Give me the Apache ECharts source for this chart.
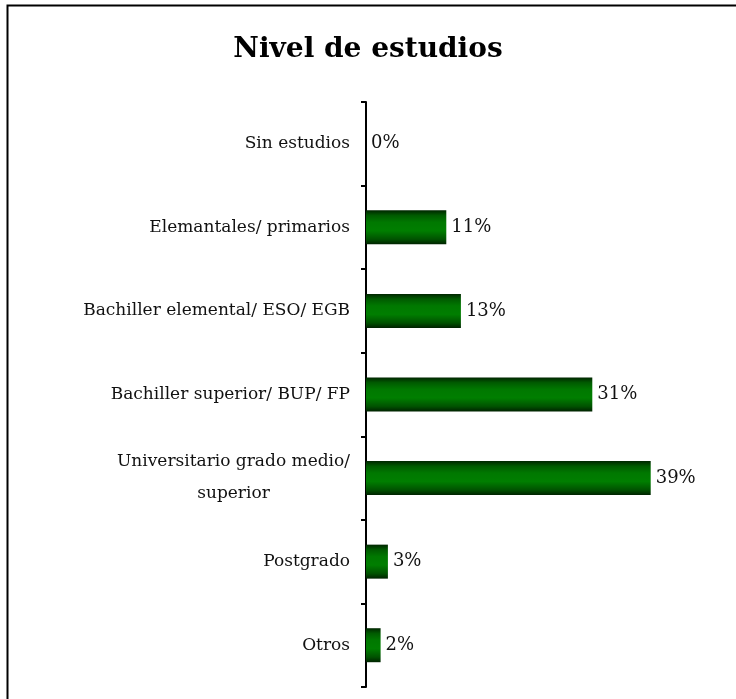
<!DOCTYPE html>
<html><head><meta charset="utf-8">
<script src="https://cdn.jsdelivr.net/npm/echarts@6/dist/echarts.min.js"></script>
<style>html,body{margin:0;padding:0;background:#fff}#c{width:736px;height:699px}</style>
</head><body><div id="c"></div>
<script>
const categories = ["Sin estudios","Elemantales/ primarios","Bachiller elemental/ ESO/ EGB","Bachiller superior/ BUP/ FP","Universitario grado medio/\nsuperior","Postgrado","Otros"];
const values = [0, 11, 13, 31, 39, 3, 2];
const titleText = "Nivel de estudios";

const font = '"DejaVu Serif", serif';
const labelSize = 17;
function textWidth(s) {
  const ctx = document.createElement('canvas').getContext('2d');
  ctx.font = labelSize + 'px ' + font;
  return Math.ceil(ctx.measureText(s).width);
}
const chart = echarts.init(document.getElementById('c'));
chart.setOption({
  animation: false,
  backgroundColor: '#fff',
  title: {text: titleText, left: 'center', top: 31, textStyle: {fontFamily: font, fontWeight: 'bold', fontSize: 28, color: '#000'}},
  graphic: [{type: 'polyline', shape: {points: [[7.5, 699], [7.5, 5.5], [736, 5.5]]}, style: {stroke: '#000', lineWidth: 2, fill: null}}],
  grid: {left: 366, top: 102, width: 365, height: 585, containLabel: false},
  xAxis: {type: 'value', min: 0, max: 50, show: false},
  yAxis: {
    type: 'category', inverse: true, data: categories,
    axisLine: {show: true, lineStyle: {color: '#000', width: 2}},
    axisTick: {show: true, length: 5, inside: false, lineStyle: {color: '#000', width: 2}},
    axisLabel: {
      fontFamily: font, fontSize: labelSize, color: '#111', margin: 16, lineHeight: 32,
      formatter: function (v) {
        if (v.indexOf('\n') >= 0) {
          const parts = v.split('\n');
          const w = Math.max.apply(null, parts.map(textWidth));
          return parts.map(s => '{c|' + s + '}').join('\n').replace(/\{c\|/g, '{c|');
        }
        return v;
      },
      rich: {c: {width: textWidth("Universitario grado medio/"), align: 'center', fontFamily: font, fontSize: labelSize, color: '#111', lineHeight: 32}}
    }
  },
  series: [{
    type: 'bar', data: values, barWidth: 34,
    itemStyle: {color: new echarts.graphic.LinearGradient(0, 0, 0, 1, [
      {offset: 0, color: '#002600'}, {offset: 0.15, color: '#005a00'}, {offset: 0.35, color: '#007800'},
      {offset: 0.6, color: '#007e00'}, {offset: 0.85, color: '#005200'}, {offset: 1, color: '#002200'}])},
    label: {show: true, position: 'right', distance: 5, formatter: '{c}%', fontFamily: font, fontSize: 18, color: '#111'}
  }]
});
</script></body></html>
